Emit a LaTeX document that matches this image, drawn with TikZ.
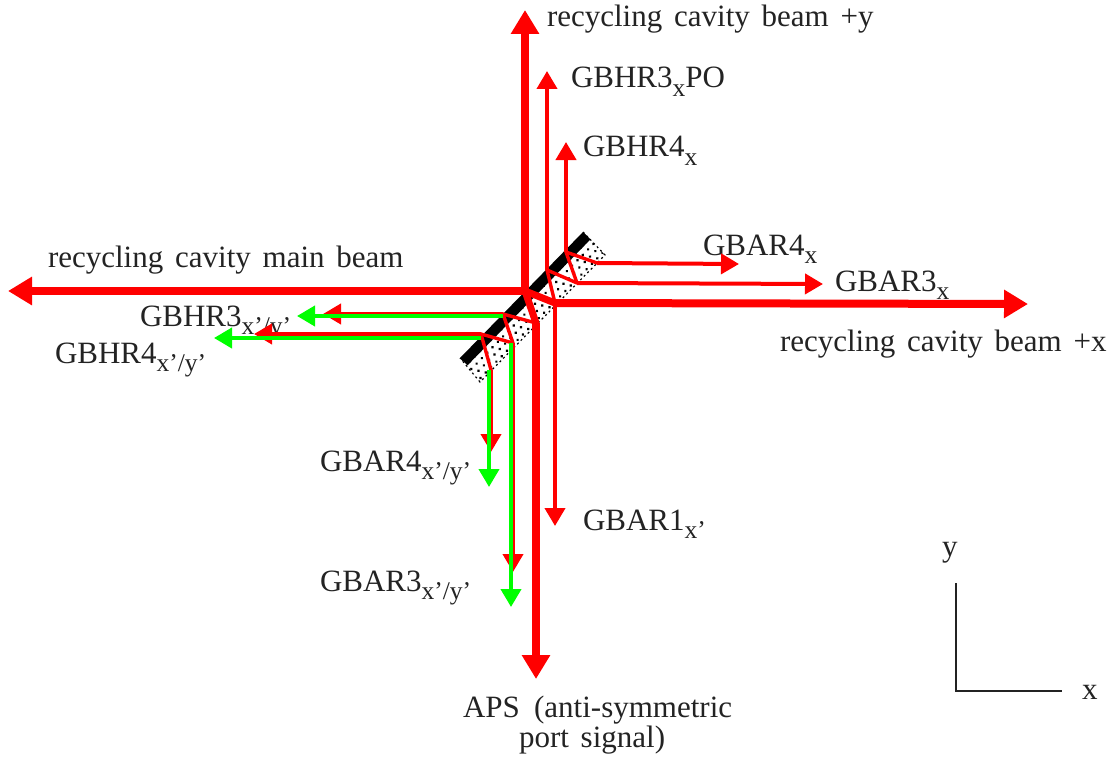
\documentclass[tikz,border=0pt]{standalone}
\usepackage{fontspec}
\setmainfont{Liberation Serif}
\usetikzlibrary{arrows.meta,calc}
\definecolor{rayred}{RGB}{255,0,0}
\definecolor{raygreen}{RGB}{0,255,0}
\definecolor{inkgray}{RGB}{35,35,35}
\newcommand{\sbx}[1]{\raisebox{-0.27em}{\fontsize{25.5}{25.5}\selectfont #1}}
\newcommand{\wsp}{\hspace{0.38em}}
\tikzset{
  x=1pt,y=-1pt,
  lab/.style={anchor=base west,inner sep=0pt,outer sep=0pt,text=inkgray,font=\fontsize{31}{33}\selectfont},
  thickray/.style={draw=rayred,line width=8pt,-{Triangle[length=24pt,width=27pt]}},
  thickseg/.style={draw=rayred,line width=7pt,line cap=round},
  redray/.style={draw=rayred,line width=4pt,-{Triangle[length=18pt,width=20pt]}},
  greenray/.style={draw=raygreen,line width=4pt,-{Triangle[length=18pt,width=20pt]}},
  redseg/.style={draw=rayred,line width=3.4pt,line cap=round},
  axisline/.style={draw=inkgray,line width=1.6pt},
}
\begin{document}
\begin{tikzpicture}
\useasboundingbox (0,0) rectangle (1110,757);
% mirror
\coordinate (mA) at (460,358);
\coordinate (mB) at (583,232);
\coordinate (mC) at (605,255);
\coordinate (mD) at (480,382);
\begin{scope}
  \clip (mA)--(mB)--(mC)--(mD)--cycle;
  \begin{scope}[shift={(mA)},rotate=45.7]
    \foreach \i in {0,...,24}{
      \foreach \j in {0,...,5}{
        \fill[black] ({\i*7.6+mod(\j,2)*3.8},{\j*6.4+3}) circle (1.5pt);
      }
    }
  \end{scope}
\end{scope}
\draw[black,line width=1.2pt,dash pattern=on 2pt off 3pt] (mB)--(mC)--(mD)--(mA);
\fill[black] (mA)--(mB)--($(mB)!10.5pt!90:(mA)$)--($(mA)!10.5pt!-90:(mB)$)--cycle;

% labels
\node[lab] (l1) at (547,27) {recycling\wsp cavity\wsp beam\wsp +y};
\node[lab] (l2) at (571,88) {GBHR3\sbx{x}PO};
\node[lab] (l3) at (583,157) {GBHR4\sbx{x}};
\node[lab] (l4) at (703,255) {GBAR4\sbx{x}};
\node[lab] (l5) at (835,291) {GBAR3\sbx{x}};
\node[lab] (l6) at (780,351) {recycling\wsp cavity\wsp beam\wsp +x};
\node[lab] (l7) at (48,267) {recycling\wsp cavity\wsp main\wsp beam};
\node[lab] (l8) at (140,326) {GBHR3\sbx{x’/y’}};
\node[lab] (l9) at (55,363) {GBHR4\sbx{x’/y’}};
\node[lab] (l10) at (320,471) {GBAR4\sbx{x’/y’}};
\node[lab] (l11) at (320,591) {GBAR3\sbx{x’/y’}};
\node[lab] (l12) at (583,530) {GBAR1\sbx{x’}};
\node[lab] (l13) at (463,717) {APS\hspace{0.46em}(anti-symmetric};
\node[lab] (l14) at (519,747) {port\wsp signal)};
\node[lab] (l15) at (942,556) {y};
\node[lab] (l16) at (1082,699) {x};

% points on the mirror
\coordinate (p0) at (525,291);
\coordinate (p1) at (547,270);
\coordinate (p2) at (566,252);
\coordinate (p3) at (503,314);
\coordinate (p4) at (481,334);
\coordinate (q0) at (555,303);
\coordinate (q1) at (577,283);
\coordinate (q2) at (597,263);
\coordinate (q3) at (536,323);
\coordinate (q4) at (513,343);
\coordinate (q5) at (491,370);
% ends
\coordinate (eUp) at (525,10);
\coordinate (eLeft) at (8,291);
\coordinate (eRight) at (1028,304);
\coordinate (eDown) at (536,679);
\coordinate (eHR3PO) at (547,71);
\coordinate (eHR4) at (566,142);
\coordinate (eAR4) at (739,264);
\coordinate (eAR3) at (823,284);
\coordinate (eAR1) at (555,526);
\coordinate (eR3l) at (323,314);
\coordinate (eG3l) at (297,316);
\coordinate (eR4l) at (254,334);
\coordinate (eG4l) at (214,338);
\coordinate (eR4d) at (491,452);
\coordinate (eG4d) at (489,487);
\coordinate (eR3d) at (513,572);
\coordinate (eG3d) at (511,607);

% thin red rays
\draw[redray] (p1) -- (eHR3PO);
\draw[redray] (p2) -- (eHR4);
\draw[redseg] (p2) -- (q2);
\draw[redseg] (p2) -- (q1);
\draw[redseg] (p1) -- (q1);
\draw[redseg] (p1) -- (q0);
\draw[redray] (q2) -- (eAR4);
\draw[redray] (q1) -- (eAR3);
\draw[redray] (q0) -- (eAR1);
\draw[redseg] (p3) -- (q4);
\draw[redseg] (p4) -- (q4);
\draw[redseg] (p4) -- (q5);
\draw[redray] (p3) -- (eR3l);
\draw[redray] (p4) -- (eR4l);
\draw[redray] (q5) -- (eR4d);
\draw[redray] (q4) -- (eR3d);
% thick red beams
\draw[thickray] (p0) -- (eUp);
\draw[thickray] (p0) -- (eLeft);
\draw[thickray] (q0) -- (eRight);
\draw[thickray] (q3) -- (eDown);
\draw[thickseg] (p0) -- (q0);
\draw[thickseg] (p0) -- (q3);
\draw[redseg] (p3) -- (q3);
% green rays
\coordinate (g1) at (eG3l-|p3);
\coordinate (g2) at (eG4l-|p4);
\coordinate (g3) at (eG4d|-q5);
\coordinate (g4) at (eG3d|-q4);
\draw[greenray] (g1) -- (eG3l);
\draw[greenray] (g2) -- (eG4l);
\draw[greenray] (g3) -- (eG4d);
\draw[greenray] (g4) -- (eG3d);

% axes
\coordinate (aY) at (956,583);
\coordinate (aO) at (956,691);
\coordinate (aX) at (1062,691);
\draw[axisline] (aY) -- (aO) -- (aX);
\end{tikzpicture}
\end{document}
